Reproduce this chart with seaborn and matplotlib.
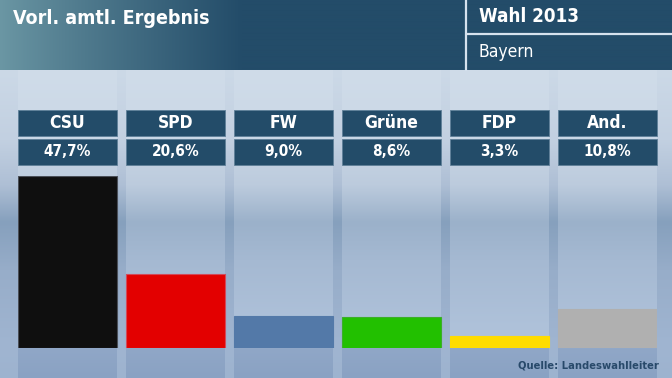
import numpy as np
import matplotlib
matplotlib.use("Agg")
import matplotlib.pyplot as plt
import matplotlib.patches as patches
from matplotlib.colors import to_rgb
import seaborn as sns

# data
parties = ["CSU", "SPD", "FW", "Grüne", "FDP", "And."]
shares = [47.7, 20.6, 9.0, 8.6, 3.3, 10.8]
share_labels = ["47,7%", "20,6%", "9,0%", "8,6%", "3,3%", "10,8%"]
bar_colors = ["#0f0f0f", "#e30000", "#5379a8", "#22c000", "#ffdc00", "#b0b0b0"]
bar_edges = ["#4a4f58", "#d24a5a", "#5379a8", "#3cae2a", "#ffdc00", "#b0b0b0"]

title = "Vorl. amtl. Ergebnis"
election = "Wahl 2013"
region = "Bayern"
source = "Quelle: Landeswahlleiter"

sns.set_theme(style="white")
plt.rcParams['font.family'] = ['DejaVu Sans']
plt.rcParams['font.stretch'] = 'condensed'

W, H = 672, 378
dark_blue = "#234c69"

fig = plt.figure(figsize=(W / 100, H / 100), dpi=100)
bg = fig.add_axes([0, 0, 1, 1])
bg.set_xlim(0, W)
bg.set_ylim(H, 0)
bg.axis("off")


def profile(points, ys):
    pos = [p[0] for p in points]
    cols = np.array([to_rgb(p[1]) for p in points])
    return np.stack([np.interp(ys, pos, cols[:, k]) for k in range(3)], axis=1)


ys = np.arange(70, H) + 0.5
slot_pts = [(70, "#d0dce9"), (140, "#c9d7e6"), (185, "#bccbdd"), (222, "#9bb1ca"),
            (260, "#a5b9d2"), (330, "#afc2da"), (347, "#b2c5dd"), (348.5, "#90a7c7"),
            (378, "#8aa2c3")]
gap_pts = [(70, "#ccd9e7"), (140, "#c2d0e1"), (185, "#aebfd5"), (222, "#86a0bd"),
           (270, "#97adc9"), (347, "#a0b5d1"), (378, "#9db3cf")]
slot_col = profile(slot_pts, ys)
gap_col = profile(gap_pts, ys)

xs = np.arange(W) + 0.5
in_slot = np.zeros(W, dtype=bool)
for i in range(len(parties)):
    x0 = 18 + i * 108
    in_slot |= (xs >= x0) & (xs < x0 + 99)
img = np.where(in_slot[None, :, None], slot_col[:, None, :], gap_col[:, None, :])
bg.imshow(img, extent=(0, W, H, 70), aspect="auto", interpolation="bilinear", zorder=0)

# header gradient
hx = np.linspace(0, 1, W)
left, right = np.array(to_rgb("#6b97a4")), np.array(to_rgb(dark_blue))
t = np.clip(hx / 0.36, 0, 1) ** 0.9
head = left[None, :] * (1 - t[:, None]) + right[None, :] * t[:, None]
bg.imshow(np.repeat(head[None, :, :], 2, axis=0), extent=(0, W, 70, 0),
          aspect="auto", interpolation="bilinear", zorder=1)
bg.plot([466, 466], [0, 70], color="#d6e2ee", lw=1.6, zorder=2)
bg.plot([466, W], [34, 34], color="#d6e2ee", lw=1.6, zorder=2)

bg.text(13, 19, title, color="white", fontsize=14, fontweight="bold",
        va="center", ha="left", zorder=3)
bg.text(479, 17, election, color="white", fontsize=13.5, fontweight="bold",
        va="center", ha="left", zorder=3)
bg.text(479, 52, region, color="white", fontsize=12.5, va="center", ha="left", zorder=3)

# label boxes
for i, (p, lab) in enumerate(zip(parties, share_labels)):
    x0 = 18 + i * 108
    bg.add_patch(patches.Rectangle((x0, 110), 99, 25.5, facecolor=dark_blue,
                                   edgecolor="#5e7f98", lw=0.6, zorder=3))
    bg.add_patch(patches.Rectangle((x0, 138.5), 99, 26.5, facecolor=dark_blue,
                                   edgecolor="#5e7f98", lw=0.6, zorder=3))
    bg.text(x0 + 49.5, 123, p, color="white", fontsize=12.5, fontweight="bold",
            ha="center", va="center", zorder=4)
    bg.text(x0 + 49.5, 151.5, lab, color="white", fontsize=11, fontweight="bold",
            ha="center", va="center", zorder=4)

bg.text(659, 366, source, color="#28496a", fontsize=8, fontweight="bold",
        ha="right", va="center", zorder=3)

# bars
ax = fig.add_axes([18 / W, 30 / H, 639 / W, 172 / H])
ax.patch.set_alpha(0)
sns.barplot(x=parties, y=shares, hue=parties, palette=bar_colors, legend=False,
            width=99 / 108, saturation=1, ax=ax, linewidth=0)
for bar, ec in zip(ax.patches, bar_edges):
    bar.set_edgecolor(ec)
    bar.set_linewidth(0.8)
ax.set_xlim(-0.5 * 99 / 108, 5 + 0.5 * 99 / 108)
ax.set_ylim(0, 47.7)
ax.axis("off")

fig.savefig("out.png", dpi=100)
